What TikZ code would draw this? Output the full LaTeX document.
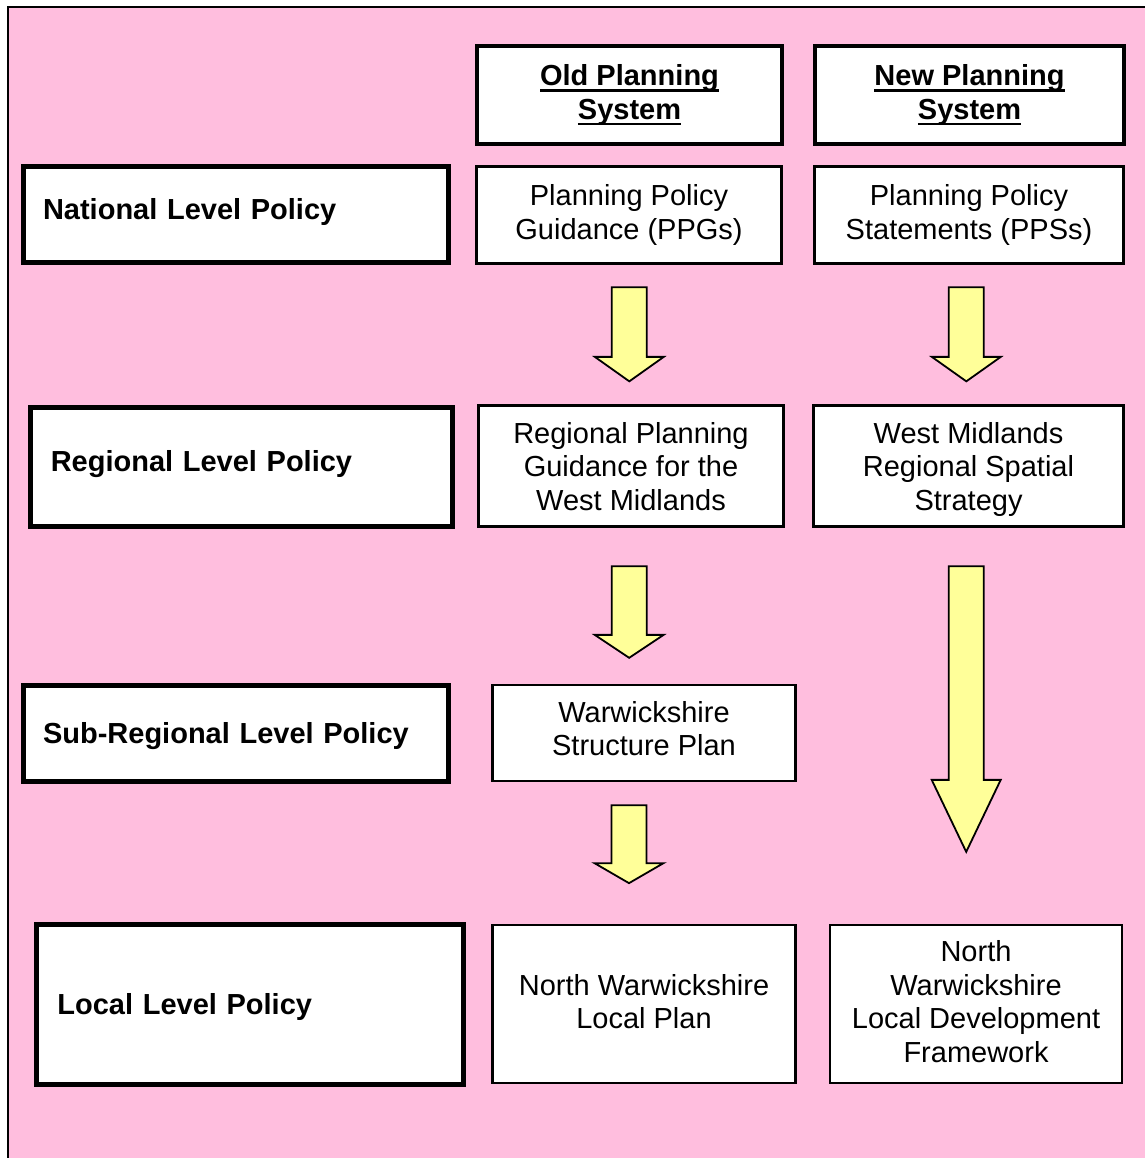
\documentclass[tikz,border=0pt]{standalone}
\usepackage{fontspec}
\setmainfont{Liberation Sans}
\usetikzlibrary{calc}
\definecolor{bgpink}{HTML}{FFBEDE}
\definecolor{arrowyellow}{HTML}{FFFF99}
\newcommand{\sysul}[1]{\setbox0=\hbox{#1}\rlap{\rule[-6pt]{\wd0}{2.4pt}}\box0}
\newcommand{\fatarrow}[3]{%
  \draw[blockarr] let \p1=#1, \p2=#2 in
    (\x1-17.5pt,\y1) -- (\x1+17.5pt,\y1) -- (\x1+17.5pt,\y2+#3) -- (\x1+34.5pt,\y2+#3)
    -- (\x1,\y2) -- (\x1-34.5pt,\y2+#3) -- (\x1-17.5pt,\y2+#3) -- cycle;}

\begin{document}
\begin{tikzpicture}[
  x=1pt, y=-1pt,
  font=\fontsize{29}{33.5}\selectfont,
  level/.style={draw=black, line width=5pt, fill=white, align=left, inner xsep=20pt, minimum height=96pt, font=\fontsize{29}{33.5}\selectfont\bfseries},
  sysbox/.style={draw=black, line width=4pt, fill=white, align=center, minimum width=305pt, minimum height=98pt, font=\fontsize{29}{33.5}\selectfont\bfseries},
  doc/.style={draw=black, line width=2.3pt, fill=white, align=center, minimum width=305pt, minimum height=97pt},
  blockarr/.style={draw=black, line width=1.8pt, fill=arrowyellow, line join=miter},
]
\useasboundingbox (0,0) rectangle (1145,1158);
\fill[bgpink] (8,7) rectangle (1145,1158);
\draw[line width=2.4pt] (8,1158) -- (8,7) -- (1145,7);

\node[level, text width=385pt, minimum height=95.5pt, text depth=12pt] (nat) at (235.5,214.7) {National Level Policy};
\node[level, text width=381.5pt, minimum height=119pt, text depth=12pt] (reg) at (241.5,466.5) {Regional Level Policy};
\node[level, text width=385pt, text depth=-3.3pt] (sub) at (235.5,733) {Sub-Regional Level Policy};
\node[level, text width=385pt, inner xsep=21pt, minimum height=160pt, text depth=-0.5pt] (loc) at (249.9,1004.4) {Local Level Policy};

\node[sysbox] (old) at (629.5,95) {\sysul{Old Planning}\\\sysul{System}};
\node[sysbox, minimum width=309pt] (new) at (969.5,95) {\sysul{New Planning}\\\sysul{System}};

\node[doc] (ppg) at (629,215) {Planning Policy\\Guidance (PPGs)};
\node[doc, minimum width=309pt] (pps) at (969,215) {Planning Policy\\Statements (PPSs)};
\node[doc, minimum height=121pt, text depth=-4pt] (rpg) at (631,466) {Regional Planning\\Guidance for the\\West Midlands};
\node[doc, minimum width=310pt, minimum height=121pt, text depth=-4pt] (rss) at (968.5,466) {West Midlands\\Regional Spatial\\Strategy};
\node[doc, minimum width=303pt, minimum height=96pt, text depth=9.5pt] (sp) at (644,733) {Warwickshire\\Structure Plan};
\node[doc, minimum width=303pt, minimum height=158pt, text depth=6pt] (nwlp) at (644,1004.3) {North Warwickshire\\Local Plan};
\node[doc, minimum width=292pt, minimum height=158pt, text depth=5pt] (ldf) at (976,1004) {North\\Warwickshire\\Local Development\\Framework};

\fatarrow{($(ppg.south)+(0.3,22.5)$)}{($(rpg.north)+(0,-23)$)}{24.5pt}
\fatarrow{($(pps.south)+(-2.7,22.5)$)}{($(rss.north)+(0,-23)$)}{24.5pt}
\fatarrow{($(rpg.south)+(-1.8,38.5)$)}{($(sp.north)+(0,-26)$)}{23pt}
\fatarrow{($(rss.south)+(-2.3,38.5)$)}{($(ldf.north)+(0,-72)$)}{72pt}
\fatarrow{($(sp.south)+(-15,23)$)}{($(nwlp.north)+(0,-41)$)}{20pt}
\end{tikzpicture}
\end{document}
